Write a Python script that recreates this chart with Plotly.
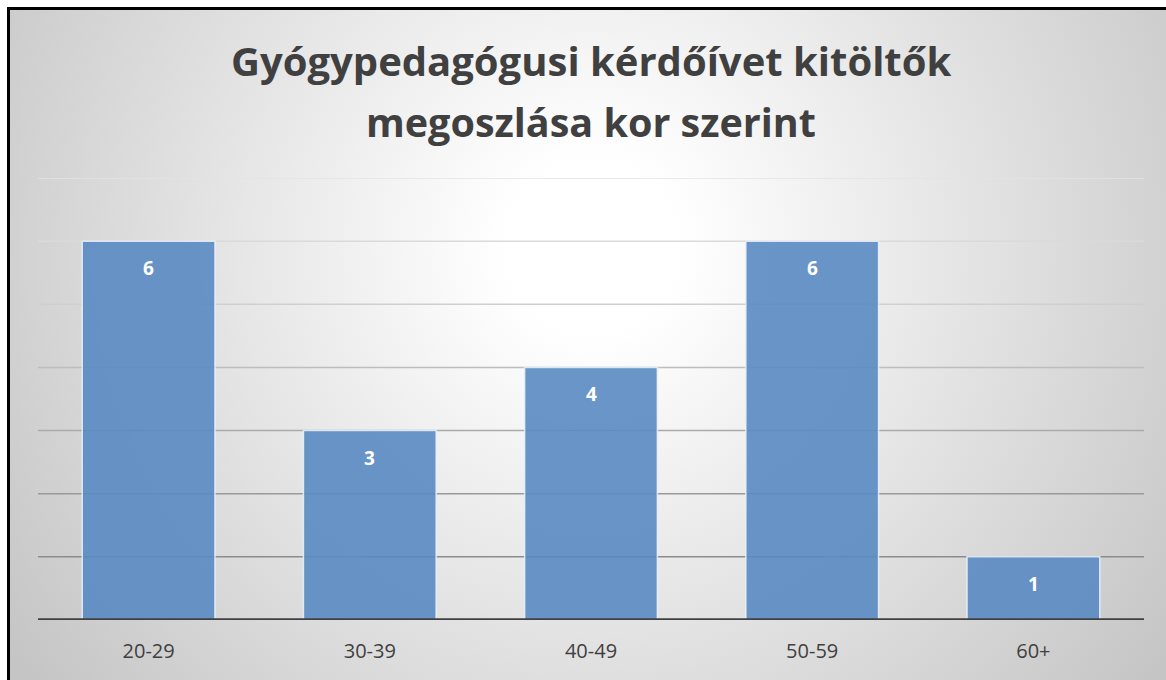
import plotly.graph_objects as go
import urllib.parse

categories = ["20-29", "30-39", "40-49", "50-59", "60+"]
values = [6, 3, 4, 6, 1]
grid_values = [1, 2, 3, 4, 5, 6, 7]
grid_colors = ["#8c8c8c", "#9a9a9a", "#aaaaaa", "#bdbdbd", "#cfcfcf", "#dadada", "#e3e3e3"]
title_lines = ["Gyógypedagógusi kérdőívet kitöltők", "megoszlása kor szerint"]

W, H = 1166, 680
L, R, T, B = 38, 22, 178, 60
PW, PH = W - L - R, H - T - B

def px(xpix):
    return (xpix - L) / PW

def py(ypix):
    return (H - B - ypix) / PH

svg = (
    '<svg xmlns="http://www.w3.org/2000/svg" width="1159" height="673" viewBox="0 0 1159 673" preserveAspectRatio="none">'
    '<defs><radialGradient id="g" gradientUnits="userSpaceOnUse" cx="585" cy="240" r="720">'
    '<stop offset="0" stop-color="#ffffff"/><stop offset="0.12" stop-color="#ffffff"/>'
    '<stop offset="1" stop-color="#c4c4c4"/></radialGradient></defs>'
    '<rect x="0" y="0" width="1159" height="673" fill="url(#g)"/>'
    '<line x1="1.5" y1="0" x2="1.5" y2="673" stroke="#000" stroke-width="3"/>'
    '<line x1="0" y1="1.5" x2="1159" y2="1.5" stroke="#000" stroke-width="3"/>'
    '</svg>'
)
src = "data:image/svg+xml;charset=utf-8," + urllib.parse.quote(svg)

fig = go.Figure()
fig.add_trace(go.Bar(
    x=categories, y=values,
    marker=dict(color="rgba(89,137,194,0.9)", line=dict(color="rgba(235,242,250,0.85)", width=1.5)),
    width=0.6, hoverinfo="skip",
))

for c, v in zip(categories, values):
    fig.add_annotation(x=c, y=v, xref="x", yref="y", text=f"<b>{v}</b>",
                       showarrow=False, yanchor="middle", yshift=-27,
                       font=dict(family="Open Sans", size=19, color="#ffffff"))

shapes = []
for gv, gc in zip(grid_values, grid_colors):
    shapes.append(dict(type="line", xref="paper", yref="y", x0=0, x1=1, y0=gv, y1=gv,
                       line=dict(color=gc, width=1.5), layer="below"))
shapes.append(dict(type="line", xref="paper", yref="y", x0=0, x1=1, y0=0, y1=0,
                   line=dict(color="#404040", width=3.5), layer="above"))

title_y = [60, 122]
title_sizes = [40, 39.5]
for t, yp, fs in zip(title_lines, title_y, title_sizes):
    fig.add_annotation(x=0.5, y=py(yp), xref="paper", yref="paper", text=f"<b>{t}</b>",
                       showarrow=False, xanchor="center", yanchor="middle",
                       font=dict(family="Open Sans", size=fs, color="#404040"))

fig.update_layout(
    width=W, height=H,
    margin=dict(l=L, r=R, t=T, b=B, pad=0),
    paper_bgcolor="#ffffff",
    plot_bgcolor="rgba(0,0,0,0)",
    showlegend=False,
    bargap=0.4,
    shapes=shapes,
    images=[dict(source=src, xref="paper", yref="paper", x=px(7), y=py(7),
                 sizex=(W - 7) / PW, sizey=(H - 7) / PH, sizing="stretch",
                 xanchor="left", yanchor="top", layer="below")],
    xaxis=dict(showgrid=False, zeroline=False, showline=False,
               ticks="outside", ticklen=13, tickcolor="rgba(0,0,0,0)",
               tickfont=dict(family="Open Sans", size=20, color="#404040")),
    yaxis=dict(range=[0, 7], showgrid=False, zeroline=False, showticklabels=False,
               showline=False),
)

fig.write_html(
    "out.html",
    config={"displayModeBar": False},
    post_script="document.body.style.margin='0';document.body.style.overflow='hidden';",
)
